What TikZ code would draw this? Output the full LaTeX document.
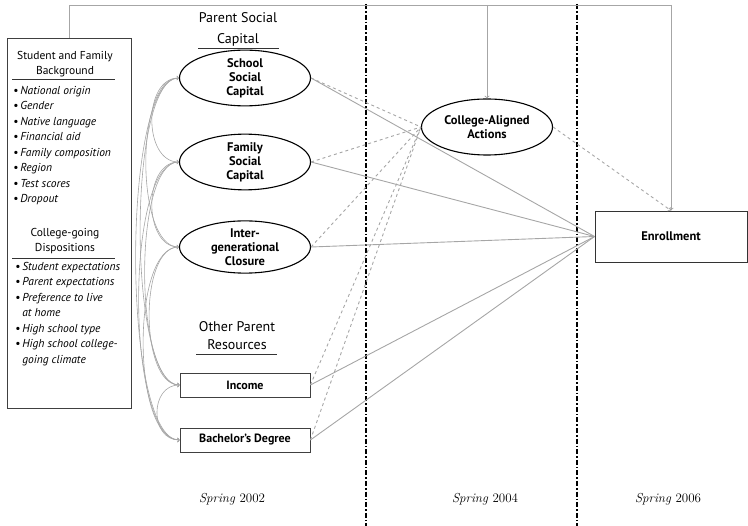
\documentclass[tikz,border=0pt]{standalone}
\usepackage{fontspec}
\setsansfont{PT Sans}
\usepackage{xcolor}
\usetikzlibrary{shapes.geometric}

\tikzset{
  construct/.style={ellipse,draw,line width=1.1pt,minimum width=131,minimum height=50,
    inner sep=0pt,align=center,font=\sffamily\bfseries\fontsize{12.5}{14}\selectfont},
  measure/.style={rectangle,draw=black!75,line width=0.8pt,minimum width=130,minimum height=24,
    inner sep=0pt,font=\sffamily\bfseries\fontsize{12}{14}\selectfont},
  heading/.style={align=center,font=\sffamily\fontsize{14}{21}\selectfont},
  subhead/.style={align=center,font=\sffamily\fontsize{11.5}{15}\selectfont},
  itemlist/.style={align=left,inner sep=0pt,font=\sffamily\itshape\fontsize{11.5}{15.5}\selectfont},
  direct/.style={draw=black!35,line width=0.9pt},
  mediated/.style={draw=black!35,line width=0.9pt,dashed},
  corr/.style={<->,draw=black!35,line width=0.6pt},
  period/.style={draw=black,line width=1.8pt,dash pattern=on 5pt off 2pt on 1.6pt off 2pt},
  springlabel/.style={font=\fontsize{13}{15}\selectfont}
}

\begin{document}
\begin{tikzpicture}[x=1pt,y=-1pt]
\useasboundingbox (0,0) rectangle (748,526);

% time periods
\draw[period] (366,4) -- (366,526);
\draw[period] (577,4) -- (577,526);
\node[springlabel] (t2002) at (232,499) {\textit{Spring} 2002};
\node[springlabel] (t2004) at (485,499) {\textit{Spring} 2004};
\node[springlabel] (t2006) at (668,499) {\textit{Spring} 2006};

% background box
\node[draw=black!75,line width=0.9pt,minimum width=124,minimum height=370,inner sep=0pt] (bg) at (69,223) {};
\node[subhead] (bghead) at (65,64) {Student and Family\\Background};
\draw[black!80] (12,79) -- (115,79);
\node[itemlist,anchor=north west] (bglist) at (13,86) {%
  \textbullet\,National origin\\
  \textbullet\,Gender\\
  \textbullet\,Native language\\
  \textbullet\,Financial aid\\
  \textbullet\,Family composition\\
  \textbullet\,Region\\
  \textbullet\,Test scores\\
  \textbullet\,Dropout};
\node[subhead] (dishead) at (65,241) {College-going\\Dispositions};
\draw[black!80] (12,258) -- (115,258);
\node[itemlist,anchor=north west] (dislist) at (15,262) {%
  \textbullet\,Student expectations\\
  \textbullet\,Parent expectations\\
  \textbullet\,Preference to live\\
  \phantom{\textbullet\,}at home\\
  \textbullet\,High school type\\
  \textbullet\,High school college-\\
  \phantom{\textbullet\,}going climate};

% parent social capital
\node[heading] (pschead) at (238,29) {Parent Social\\Capital};
\draw[black!80] (198,48) -- (279,48);
\node[construct] (school) at (245,78) {School\\Social\\Capital};
\node[construct] (family) at (245,162) {Family\\Social\\Capital};
\node[construct] (closure) at (245,247) {Inter-\\generational\\Closure};

% other parent resources
\node[heading,font=\sffamily\fontsize{14}{18}\selectfont] (oprhead) at (237,336) {Other Parent\\Resources};
\draw[black!80] (196,354) -- (277,354);
\node[measure] (income) at (245,385) {Income};
\node[measure] (degree) at (245,440) {Bachelor’s Degree};

% mediator and outcome
\node[construct,minimum width=131,minimum height=56] (actions) at (487,127) {College-Aligned\\Actions};
\node[rectangle,draw=black!80,line width=0.9pt,minimum width=152,minimum height=51,
  font=\sffamily\bfseries\fontsize{12.5}{14}\selectfont] (enroll) at (671,236.5) {Enrollment};

% background paths along the top
\coordinate (topline) at (0,5);
\draw[direct] (bg.north) |- (topline -| enroll.north);
\draw[direct,->] (topline -| enroll.north) -- (enroll.north);
\draw[direct,->] (topline -| actions.north) -- (actions.north);

% direct effects
\draw[direct] (school.east) -- (enroll.west);
\draw[direct] (family.east) -- (enroll.west);
\draw[direct] (closure.east) -- (enroll.west);
\draw[direct] (income.east) -- (enroll.west);
\draw[direct] (degree.east) -- (enroll.west);

% mediated effects
\draw[mediated] (school.east) -- (actions.west);
\draw[mediated] (family.east) -- (actions.west);
\draw[mediated] (closure.east) -- (actions.west);
\draw[mediated] (income.east) -- (actions.west);
\draw[mediated] (degree.east) -- (actions.west);
\draw[mediated,->] (actions.east) -- (enroll.north);

% correlations among parent measures
\draw[corr] (school.west) to[out=180,in=180,distance=36] (family.west);
\draw[corr] (school.west) to[out=180,in=180,distance=44] (closure.west);
\draw[corr] (school.west) to[out=180,in=180,distance=52] (income.west);
\draw[corr] (school.west) to[out=180,in=180,distance=58] (degree.west);
\draw[corr] (family.west) to[out=180,in=180,distance=36] (closure.west);
\draw[corr] (family.west) to[out=180,in=180,distance=46] (income.west);
\draw[corr] (family.west) to[out=180,in=180,distance=54] (degree.west);
\draw[corr] (closure.west) to[out=180,in=180,distance=40] (income.west);
\draw[corr] (closure.west) to[out=180,in=180,distance=48] (degree.west);
\draw[corr] (income.west) to[out=180,in=180,distance=30] (degree.west);
\end{tikzpicture}
\end{document}
